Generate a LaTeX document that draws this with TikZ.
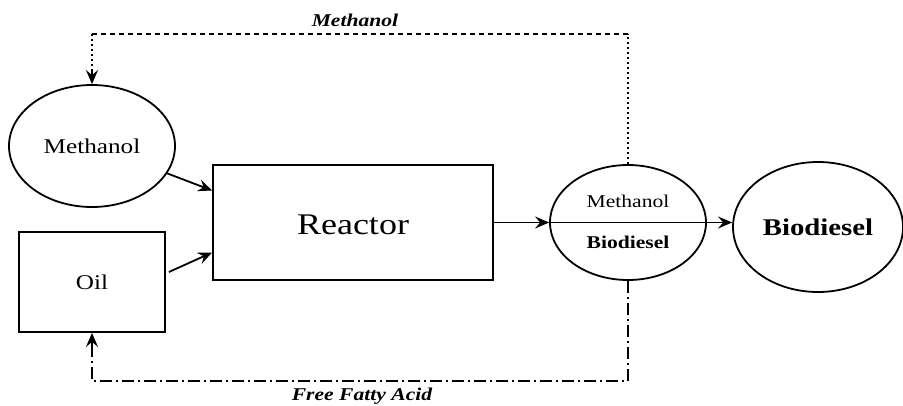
\documentclass[tikz,border=0pt]{standalone}
\usepackage{fontspec}
\setmainfont{Liberation Serif}
\newfontfamily\wf[FakeStretch=1.2,BoldFont={Liberation Serif Bold},ItalicFont={Liberation Serif Italic},BoldItalicFont={Liberation Serif Bold Italic}]{Liberation Serif}
\usetikzlibrary{shapes.geometric,arrows.meta}
\tikzset{
  ln/.style={line width=1.8pt, draw=black},
  arr/.style={ln, -{Stealth[length=14pt,width=12pt,inset=5pt]}},
  ell/.style={ln, ellipse, inner sep=0pt},
  box/.style={ln, rectangle, inner sep=0pt},
  dotln/.style={line width=1.8pt, dash pattern=on 2pt off 3pt},
  dashln/.style={line width=1.6pt, dash pattern=on 5pt off 4pt},
  dashdot/.style={line width=1.6pt, dash pattern=on 12pt off 4pt on 2pt off 4pt},
  lbl/.style={font=\wf\fontsize{18}{20}\selectfont\bfseries\itshape}
}
\begin{document}
\begin{tikzpicture}[x=1pt,y=-1pt]
\useasboundingbox (0,0) rectangle (903,405);
\node[ell, minimum width=166pt, minimum height=122pt, font=\wf\fontsize{21}{23}\selectfont] (meth) at (92,146) {Methanol};
\node[box, minimum width=146pt, minimum height=100pt, font=\wf\fontsize{21}{23}\selectfont] (oil) at (92,282) {Oil};
\node[box, minimum width=280pt, minimum height=115pt] (reactor) at (353,222.5) {};
\node[font=\wf\fontsize{30}{32}\selectfont] (rlab) at (353,225) {Reactor};
\node[ell, minimum width=156pt, minimum height=115pt] (sep) at (628,222.5) {};
\node[font=\wf\fontsize{18}{20}\selectfont] (sm) at (628,201) {Methanol};
\node[font=\wf\fontsize{18}{20}\selectfont\bfseries] (sb) at (628,242) {Biodiesel};
\node[ell, minimum width=170pt, minimum height=130pt, font=\wf\fontsize{24}{26}\selectfont\bfseries] (bio) at (818,227) {Biodiesel};
% inputs
\draw[arr] (meth.-20) -- ([yshift=32pt]reactor.west);
\draw[arr] ([yshift=10pt,xshift=3pt]oil.east) -- ([yshift=-30pt]reactor.west);
% main line
\draw[arr] (reactor.east) -- (sep.west);
\draw[arr] (sep.west) -- (sep.west -| bio.west);
% methanol recycle
\coordinate (t1) at (628,34);
\coordinate (t2) at (92,34);
\draw[dotln] (sep.north) -- (t1);
\draw[dashln] (t1) -- (t2);
\draw[dotln] (t2) -- ([yshift=12pt]meth.north);
\draw[arr] ([yshift=14pt]meth.north) -- (meth.north);
\node[lbl] (ml) at (355,20) {Methanol};
% FFA recycle
\coordinate (b1) at (628,381);
\coordinate (b2) at (92,381);
\draw[dashdot] (sep.south) -- (b1) -- (b2) -- ([yshift=-14pt]oil.south);
\draw[arr] ([yshift=-15pt]oil.south) -- (oil.south);
\node[lbl] (fl) at (362,396) {Free Fatty Acid};
\end{tikzpicture}
\end{document}
